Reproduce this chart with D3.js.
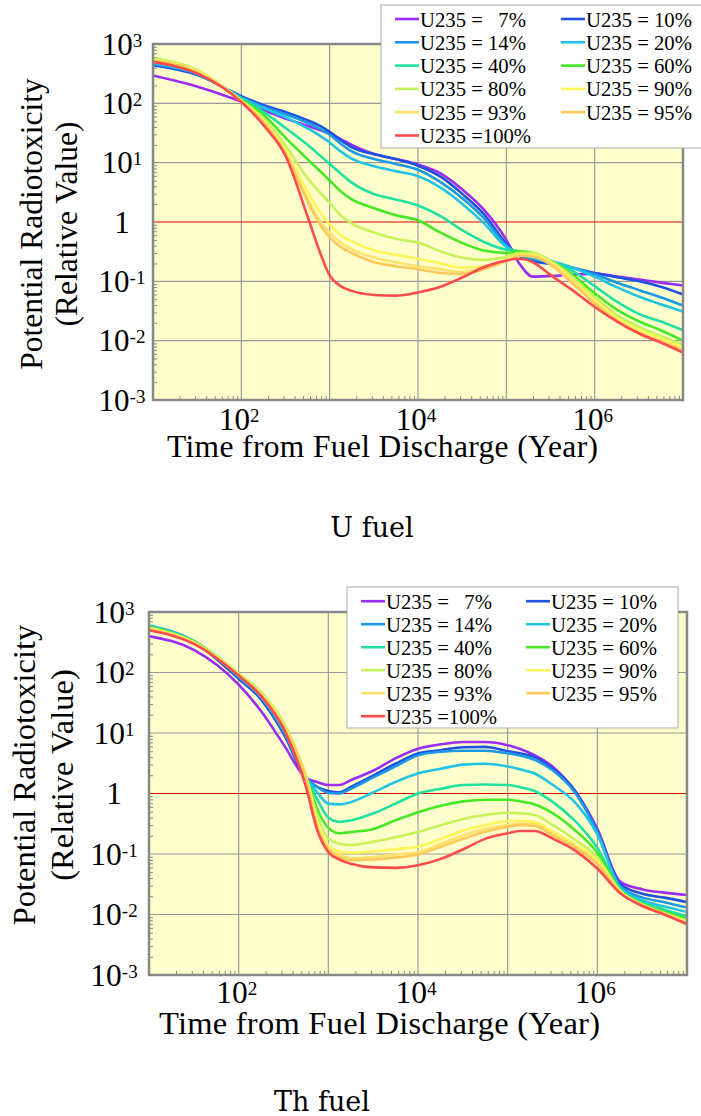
<!DOCTYPE html>
<html>
<head>
<meta charset="utf-8">
<script src="https://cdn.jsdelivr.net/npm/d3@7"></script>
<style>
  body { margin: 0; background: #fff; }
  svg text { font-family: "Liberation Serif", "Times New Roman", serif; fill: #000; }
</style>
</head>
<body>
<script>
var years = [10, 32, 100, 180, 320, 560, 750, 1000, 1330, 1780, 3200, 5600, 1e4, 1.8e4,
             3.2e4, 5.6e4, 1e5, 1.4e5, 2e5, 3.2e5, 5.6e5, 1e6, 1.8e6, 3.2e6, 5.6e6, 1e7];

var legendLabels = ["U235 =   7%", "U235 = 10%", "U235 = 14%", "U235 = 20%", "U235 = 40%", "U235 = 60%",
                    "U235 = 80%", "U235 = 90%", "U235 = 93%", "U235 = 95%", "U235 =100%"];
var colors = ["#9a2cf5", "#2050e0", "#1b98e6", "#22c4e4", "#1fe0a0", "#44e826",
              "#c6f25a", "#fff45a", "#ffe06a", "#ffc85a", "#ff4b4b"];

var yTicks = [1e-3, 1e-2, 1e-1, 1, 10, 100, 1000];
var xTickLabels = [100, 1e4, 1e6];

// U fuel
var u7   = [295, 191, 107, 76, 55, 42, 36, 31, 25, 20, 14, 11.5, 9.3, 6.6, 3.5, 1.6, 0.5, 0.2, 0.12, 0.123, 0.129, 0.135, 0.12, 0.107, 0.095, 0.085];
var u10  = [440, 300, 132, 93, 71, 52, 43, 33, 24, 18.2, 13.8, 11.5, 8.9, 5.8, 2.95, 1.35, 0.43, 0.27, 0.22, 0.195, 0.17, 0.138, 0.117, 0.1, 0.081, 0.06];
var u14  = [460, 310, 126, 87, 65, 47, 38, 29.5, 20.9, 15.5, 11.5, 9.5, 7.6, 4.7, 2.5, 1.15, 0.4, 0.28, 0.24, 0.21, 0.17, 0.132, 0.095, 0.071, 0.054, 0.039];
var u20  = [480, 320, 123, 83, 58, 38, 29.5, 21.9, 15.5, 11.7, 8.7, 7.2, 5.9, 3.8, 2.0, 0.95, 0.38, 0.3, 0.25, 0.22, 0.17, 0.12, 0.079, 0.055, 0.041, 0.031];
var u40  = [525, 331, 120, 71, 38, 20, 13.8, 9.5, 6.6, 4.6, 2.95, 2.4, 1.9, 1.26, 0.72, 0.46, 0.34, 0.32, 0.28, 0.22, 0.15, 0.083, 0.045, 0.028, 0.021, 0.015];
var u60  = [575, 355, 115, 63, 26, 11.5, 7.6, 5.0, 3.3, 2.4, 1.7, 1.3, 1.07, 0.66, 0.44, 0.33, 0.3, 0.32, 0.3, 0.22, 0.13, 0.063, 0.033, 0.021, 0.015, 0.01];
var u80  = [562, 355, 112, 55, 19, 5.5, 3.3, 2.1, 1.3, 0.95, 0.66, 0.52, 0.45, 0.32, 0.25, 0.23, 0.26, 0.3, 0.3, 0.22, 0.12, 0.054, 0.027, 0.017, 0.012, 0.0085];
var u90  = [550, 347, 110, 50, 15.8, 3.3, 1.58, 0.91, 0.6, 0.47, 0.33, 0.28, 0.24, 0.2, 0.17, 0.18, 0.23, 0.28, 0.28, 0.21, 0.105, 0.048, 0.024, 0.015, 0.011, 0.0076];
var u93  = [537, 339, 107, 48, 14.5, 2.5, 1.12, 0.66, 0.45, 0.35, 0.25, 0.21, 0.18, 0.16, 0.145, 0.166, 0.23, 0.27, 0.27, 0.2, 0.1, 0.044, 0.022, 0.0135, 0.01, 0.0071];
var u95  = [525, 331, 107, 47, 13.8, 2.24, 1.0, 0.55, 0.38, 0.3, 0.21, 0.18, 0.16, 0.138, 0.132, 0.16, 0.22, 0.27, 0.26, 0.19, 0.093, 0.042, 0.021, 0.0129, 0.0095, 0.0068];
var u100 = [500, 316, 105, 42, 12.6, 1.26, 0.355, 0.126, 0.083, 0.069, 0.059, 0.0575, 0.065, 0.081, 0.117, 0.174, 0.224, 0.24, 0.21, 0.126, 0.071, 0.037, 0.021, 0.0132, 0.0093, 0.0063];

// Th fuel
var th7   = [400, 234, 63, 22.4, 6.3, 1.82, 1.55, 1.38, 1.38, 1.66, 2.4, 3.8, 5.5, 6.5, 7.1, 7.1, 6.3, 5.4, 4.3, 2.75, 1.12, 0.26, 0.035, 0.026, 0.023, 0.021];
var th10  = [575, 316, 79, 35, 9.5, 1.78, 1.29, 1.1, 1.05, 1.29, 2.0, 3.1, 4.6, 5.2, 5.8, 5.9, 5.0, 4.6, 4.0, 2.57, 1.12, 0.24, 0.032, 0.022, 0.019, 0.016];
var th14  = [600, 331, 85, 38, 10.5, 1.86, 1.29, 1.02, 1.0, 1.2, 1.86, 2.8, 4.3, 4.9, 5.1, 5.1, 4.6, 4.2, 3.6, 2.4, 1.05, 0.23, 0.029, 0.019, 0.016, 0.013];
var th20  = [590, 324, 87, 39, 11, 1.82, 1.05, 0.68, 0.66, 0.72, 1.05, 1.55, 2.14, 2.57, 3.0, 3.1, 2.8, 2.5, 2.14, 1.38, 0.72, 0.21, 0.0275, 0.017, 0.0135, 0.011];
var th40  = [575, 324, 93, 42, 12, 1.86, 0.81, 0.4, 0.34, 0.36, 0.47, 0.68, 1.0, 1.2, 1.38, 1.41, 1.38, 1.26, 1.1, 0.72, 0.355, 0.126, 0.026, 0.016, 0.012, 0.0093];
var th60  = [562, 324, 95, 46, 14.1, 2.0, 0.56, 0.27, 0.22, 0.23, 0.26, 0.36, 0.49, 0.63, 0.74, 0.79, 0.79, 0.74, 0.66, 0.47, 0.25, 0.105, 0.025, 0.015, 0.011, 0.0085];
var th80  = [550, 316, 95, 46, 14.1, 2.0, 0.44, 0.18, 0.148, 0.141, 0.16, 0.19, 0.23, 0.3, 0.38, 0.44, 0.48, 0.47, 0.44, 0.3, 0.174, 0.087, 0.0245, 0.0145, 0.0105, 0.0079];
var th90  = [537, 309, 93, 44, 13.2, 1.9, 0.34, 0.138, 0.11, 0.105, 0.11, 0.12, 0.132, 0.178, 0.245, 0.3, 0.35, 0.355, 0.34, 0.234, 0.145, 0.076, 0.024, 0.014, 0.0102, 0.0076];
var th93  = [525, 309, 91, 43, 12.9, 1.82, 0.3, 0.126, 0.098, 0.085, 0.089, 0.098, 0.107, 0.148, 0.204, 0.26, 0.3, 0.32, 0.31, 0.214, 0.135, 0.071, 0.0234, 0.0138, 0.01, 0.0074];
var th95  = [513, 302, 91, 42, 12.6, 1.78, 0.28, 0.117, 0.089, 0.079, 0.081, 0.087, 0.098, 0.132, 0.178, 0.234, 0.28, 0.3, 0.29, 0.2, 0.129, 0.068, 0.023, 0.0138, 0.01, 0.0072];
var th100 = [500, 295, 89, 40, 11.5, 1.32, 0.25, 0.107, 0.081, 0.069, 0.06, 0.059, 0.065, 0.083, 0.12, 0.178, 0.22, 0.24, 0.24, 0.178, 0.115, 0.0575, 0.0224, 0.0138, 0.01, 0.0069];

var uSeries = [u7, u10, u14, u20, u40, u60, u80, u90, u93, u95, u100];
var thSeries = [th7, th10, th14, th20, th40, th60, th80, th90, th93, th95, th100];

var svg = d3.select("body").append("svg")
    .attr("width", 701)
    .attr("height", 1116);

// "10" with superscript exponent, or plain "1"
function powLabel(sel, v, supSize) {
    var e = Math.round(Math.log10(v));
    if (e === 0) { sel.text("1"); return; }
    sel.text("10");
    sel.append("tspan").attr("dy", -8).style("font-size", supSize + "px").text(String(e).replace("\u2212", "-"));
}

function drawChart(o) {
    var g = svg.append("g");
    var x = d3.scaleLog().domain([10, 1e7]).range([o.left, o.right]);
    var y = d3.scaleLog().domain([1e-3, 1e3]).range([o.bottom, o.top]);

    g.append("rect")
        .attr("x", o.left).attr("y", o.top)
        .attr("width", o.right - o.left).attr("height", o.bottom - o.top)
        .attr("fill", "#ffffcc");

    // decade grid
    var xGrid = [100, 1e3, 1e4, 1e5, 1e6];
    var yGrid = [1e-2, 1e-1, 10, 100];
    g.selectAll(".vg").data(xGrid).enter().append("line")
        .attr("x1", d => x(d)).attr("x2", d => x(d))
        .attr("y1", o.top).attr("y2", o.bottom)
        .attr("stroke", "#999").attr("stroke-width", 1.2);
    g.selectAll(".hg").data(yGrid).enter().append("line")
        .attr("x1", o.left).attr("x2", o.right)
        .attr("y1", d => y(d)).attr("y2", d => y(d))
        .attr("stroke", "#999").attr("stroke-width", 1.2);

    // minor ticks inside the frame
    var minorY = y.ticks().filter(d => Math.abs(Math.log10(d) % 1) > 1e-6);
    var minorX = x.ticks().filter(d => Math.abs(Math.log10(d) % 1) > 1e-6);
    g.append("g")
        .attr("transform", "translate(" + o.left + ",0)")
        .call(d3.axisLeft(y).tickValues(minorY).tickSize(-4).tickFormat(""))
        .call(s => s.select(".domain").remove())
        .selectAll("line").attr("stroke", "#888");
    g.append("g")
        .attr("transform", "translate(0," + o.bottom + ")")
        .call(d3.axisBottom(x).tickValues(minorX).tickSize(-4).tickFormat(""))
        .call(s => s.select(".domain").remove())
        .selectAll("line").attr("stroke", "#888");

    // unity line
    g.append("line")
        .attr("x1", o.left).attr("x2", o.right)
        .attr("y1", y(1)).attr("y2", y(1))
        .attr("stroke", "#e00000").attr("stroke-width", 1);

    var clipId = "clip" + o.id;
    g.append("clipPath").attr("id", clipId).append("rect")
        .attr("x", o.left).attr("y", o.top)
        .attr("width", o.right - o.left).attr("height", o.bottom - o.top);

    var line = d3.line()
        .x((d, i) => x(years[i]))
        .y(d => y(d))
        .curve(d3.curveMonotoneX);

    g.append("g").attr("clip-path", "url(#" + clipId + ")")
        .selectAll("path").data(o.series).enter().append("path")
        .attr("d", line)
        .attr("fill", "none")
        .attr("stroke", (d, i) => colors[i])
        .attr("stroke-width", 2.6)
        .attr("stroke-linejoin", "round");

    // frame
    g.append("rect")
        .attr("x", o.left).attr("y", o.top)
        .attr("width", o.right - o.left).attr("height", o.bottom - o.top)
        .attr("fill", "none").attr("stroke", "#888").attr("stroke-width", 2.5);

    // tick labels
    g.selectAll(".yl").data(yTicks).enter().append("text")
        .attr("x", o.yLabelX).attr("y", d => y(d) + 10.5)
        .attr("text-anchor", "middle")
        .style("font-size", o.tickFont + "px")
        .each(function(d) { powLabel(d3.select(this), d, 19); });
    g.selectAll(".xl").data(xTickLabels).enter().append("text")
        .attr("x", d => x(d) - 2).attr("y", o.xLabelY)
        .attr("text-anchor", "middle")
        .style("font-size", o.tickFont + "px")
        .each(function(d) { powLabel(d3.select(this), d, 19); });

    // axis titles
    g.append("text")
        .attr("x", o.xTitleX).attr("y", o.xTitleY)
        .attr("textLength", o.xTitleLen).attr("lengthAdjust", "spacing")
        .style("font-size", o.titleFont + "px")
        .text("Time from Fuel Discharge (Year)");
    g.append("text")
        .attr("transform", "translate(" + o.yTitle1X + "," + o.yTitleCY + ") rotate(-90)")
        .attr("text-anchor", "middle")
        .style("font-size", o.titleFont + "px")
        .text("Potential Radiotoxicity");
    g.append("text")
        .attr("transform", "translate(" + o.yTitle2X + "," + o.yTitleCY + ") rotate(-90)")
        .attr("text-anchor", "middle")
        .style("font-size", o.titleFont + "px")
        .text("(Relative Value)");

    // legend
    var L = o.legend;
    var lg = g.append("g");
    lg.append("rect")
        .attr("x", L.x).attr("y", L.y).attr("width", L.w).attr("height", L.h)
        .attr("fill", "#fff").attr("stroke", "#aaa").attr("stroke-width", 1);
    var items = lg.selectAll(".li").data(legendLabels).enter().append("g")
        .attr("transform", function(d, i) {
            var col = i % 2, row = Math.floor(i / 2);
            return "translate(" + (col ? L.c2 : L.c1) + "," + (L.base0 + row * L.dy) + ")";
        });
    items.append("line")
        .attr("x1", 0).attr("x2", 24).attr("y1", -7.5).attr("y2", -7.5)
        .attr("stroke", (d, i) => colors[i]).attr("stroke-width", 2.6);
    items.append("text")
        .attr("x", 25).attr("y", 0)
        .style("font-size", "20.7px")
        .style("white-space", "pre")
        .text(d => d);

    // caption
    svg.append("text")
        .attr("x", o.capX).attr("y", o.capY)
        .attr("text-anchor", "middle")
        .style("font-family", "'DejaVu Serif', serif")
        .style("font-size", "27px")
        .text(o.caption);
}

drawChart({
    id: "u", series: uSeries,
    left: 153, top: 44, right: 683, bottom: 400,
    yLabelX: 122, xLabelY: 430, tickFont: 31, titleFont: 31.5,
    xTitleX: 167, xTitleY: 457, xTitleLen: 431,
    yTitle1X: 41.5, yTitle2X: 77, yTitleCY: 224,
    legend: { x: 381, y: 5, w: 330, h: 143, base0: 26.5, dy: 23.3, c1: 395, c2: 561 },
    caption: "U fuel", capX: 372, capY: 537
});

drawChart({
    id: "th", series: thSeries,
    left: 149, top: 612, right: 687, bottom: 975,
    yLabelX: 114, xLabelY: 1003, tickFont: 31.5, titleFont: 32.5,
    xTitleX: 159, xTitleY: 1034, xTitleLen: 441,
    yTitle1X: 35, yTitle2X: 73, yTitleCY: 775,
    legend: { x: 347, y: 587, w: 331, h: 141, base0: 608.7, dy: 23, c1: 361, c2: 526 },
    caption: "Th fuel", capX: 322, capY: 1111
});
</script>
</body>
</html>
